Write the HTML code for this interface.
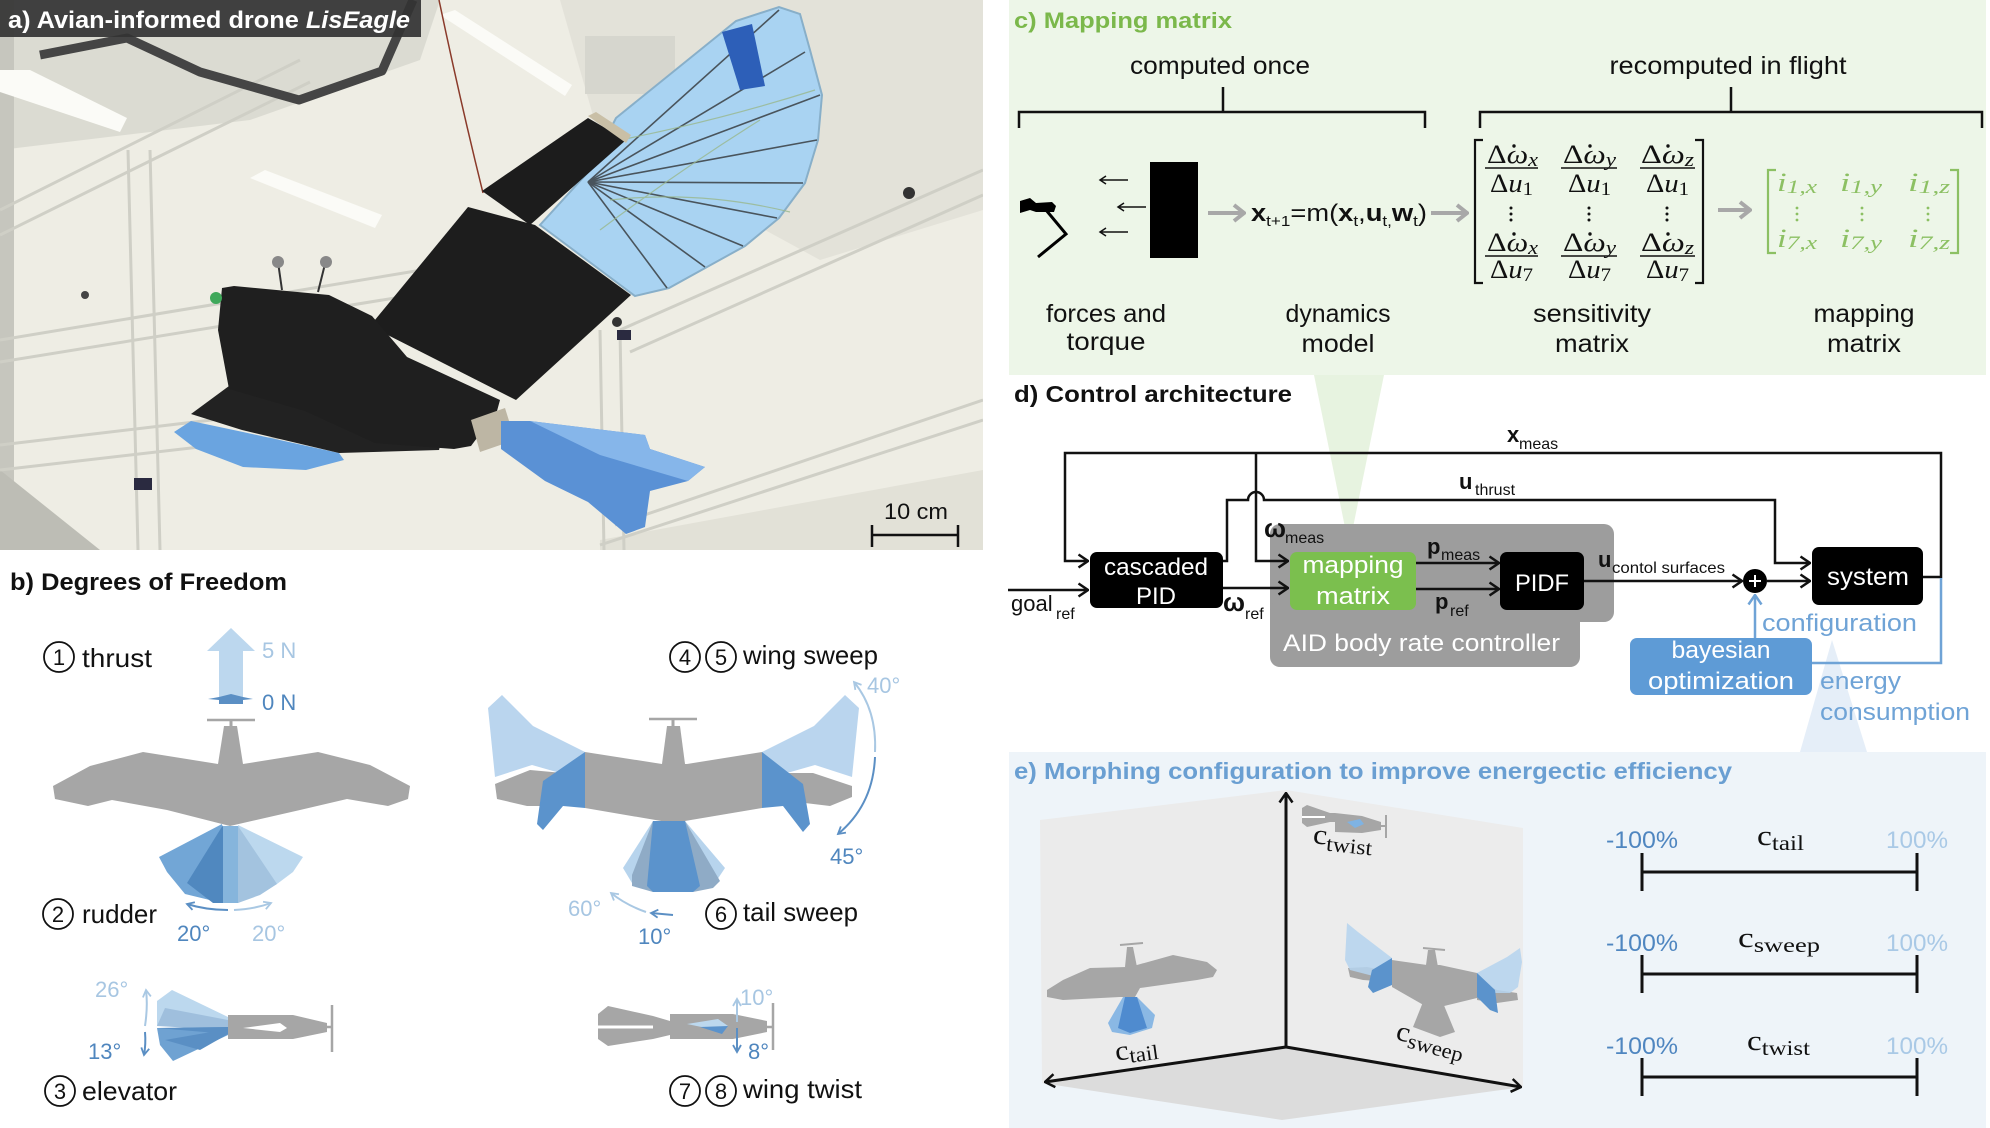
<!DOCTYPE html>
<html><head><meta charset="utf-8">
<style>
html,body{margin:0;padding:0;background:#fff;}
svg{display:block;}
text{font-family:"Liberation Sans",sans-serif;}
.sf{font-family:"Liberation Serif",serif;}
</style></head><body>
<svg width="1990" height="1128" viewBox="0 0 1990 1128" xmlns="http://www.w3.org/2000/svg">
<defs>
<marker id="ak" viewBox="0 0 12 16" refX="11" refY="8" markerWidth="12" markerHeight="16" markerUnits="userSpaceOnUse" orient="auto"><path d="M1.5,1.5 L11,8 L1.5,14.5" fill="none" stroke="#111" stroke-width="2.5"/></marker>
<marker id="abl" viewBox="0 0 12 16" refX="11" refY="8" markerWidth="12" markerHeight="16" markerUnits="userSpaceOnUse" orient="auto"><path d="M1.5,1.5 L11,8 L1.5,14.5" fill="none" stroke="#6fa3d6" stroke-width="2.5"/></marker>
<marker id="ag" viewBox="0 0 14 20" refX="12" refY="10" markerWidth="14" markerHeight="20" markerUnits="userSpaceOnUse" orient="auto"><path d="M2,2 L12,10 L2,18" fill="none" stroke="#a8a8a8" stroke-width="4"/></marker>
<marker id="md" viewBox="0 0 10 10" refX="8" refY="5" markerWidth="10" markerHeight="10" markerUnits="userSpaceOnUse" orient="auto"><path d="M1,1 L8,5 L1,9" fill="none" stroke="#5b8fc4" stroke-width="1.8"/></marker>
<marker id="ml" viewBox="0 0 10 10" refX="8" refY="5" markerWidth="10" markerHeight="10" markerUnits="userSpaceOnUse" orient="auto"><path d="M1,1 L8,5 L1,9" fill="none" stroke="#a9c8e3" stroke-width="1.8"/></marker>
<clipPath id="cp"><rect x="0" y="0" width="983" height="550"/></clipPath>
</defs>

<!-- ================= PANEL A (photo) ================= -->
<g clip-path="url(#cp)">
<rect x="0" y="0" width="983" height="550" fill="#eeede4"/>
<polygon points="0,0 440,0 420,60 250,120 0,150" fill="#d3d3ca" opacity="0.7"/>
<polygon points="560,0 983,0 983,210 820,260 600,140" fill="#dcdbd2" opacity="0.6"/>
<rect x="0" y="0" width="14" height="550" fill="#c6c6be"/>
<polygon points="0,470 100,550 0,550" fill="#bdbdb5"/>
<polygon points="600,540 983,470 983,550 600,550" fill="#e2e1d7"/>
<polygon points="0,70 30,70 127,118 120,132 0,92" fill="#fbfbf7"/>
<polygon points="250,178 265,170 382,215 375,228" fill="#fbfbf7"/>
<polygon points="440,15 455,10 572,85 565,96" fill="#fbfbf7"/>
<g stroke="#cfcfc6" stroke-width="3" fill="none">
<path d="M128,150 L138,550 M150,150 L160,550"/>
<path d="M0,210 L300,60 M0,235 L310,82"/>
<path d="M0,445 L380,400 M0,470 L390,425"/>
<path d="M620,330 L983,170 M630,352 L983,195"/>
<path d="M600,545 L983,420 M615,525 L983,400"/>
<path d="M600,330 L604,550 M620,330 L624,550"/>
<path d="M0,340 L470,262 M0,362 L475,285"/>
</g>
<path d="M40,55 L127,38 L200,72 L299,100 L382,71 L413,0" stroke="#454545" stroke-width="9" fill="none" stroke-linejoin="round"/>
<rect x="585" y="36" width="90" height="58" fill="#d6d6ce"/>
<path d="M439,0 Q460,100 483,193" stroke="#8a3a2a" stroke-width="1.5" fill="none"/>
<circle cx="909" cy="193" r="6" fill="#333"/>
<circle cx="617" cy="322" r="5" fill="#333"/>
<circle cx="85" cy="295" r="4" fill="#444"/>
<rect x="134" y="478" width="18" height="12" fill="#2a2a40"/>
<rect x="617" y="330" width="14" height="10" fill="#2a2a40"/>
<!-- upper fan -->
<polygon points="616,118 736,21 779,7 800,14 810,50 822,95 818,140 805,183 779,218 745,246 707,267 669,288 635,296 540,225 590,170" fill="#a9d3f2" stroke="#88afc9" stroke-width="2"/>
<g stroke="#2a2a2a" stroke-width="1.6" opacity="0.75">
<line x1="588" y1="182" x2="779" y2="10"/><line x1="588" y1="182" x2="805" y2="52"/>
<line x1="588" y1="182" x2="820" y2="95"/><line x1="588" y1="182" x2="817" y2="140"/>
<line x1="588" y1="182" x2="803" y2="183"/><line x1="588" y1="182" x2="777" y2="218"/>
<line x1="588" y1="182" x2="743" y2="246"/><line x1="588" y1="182" x2="705" y2="267"/>
<line x1="588" y1="182" x2="667" y2="288"/>
</g>
<g stroke="#9ab88e" stroke-width="1.2" opacity="0.8" fill="none">
<path d="M620,140 Q720,120 815,90"/><path d="M610,200 Q700,190 790,212"/><path d="M600,230 Q680,170 760,120"/>
</g>
<polygon points="722,32 752,24 765,86 740,90" fill="#2d5fb8"/>
<!-- slab -->
<polygon points="468,207 535,225 631,295 516,400 370,326" fill="#1d1d1d"/>
<!-- lower fan -->
<polygon points="174,432 191,421 243,432 339,453 344,460 306,470 243,467 196,449" fill="#6aa4e0"/>
<!-- lower wing -->
<polygon points="191,414 229,386 282,372 356,393 445,425 439,450 339,453 242,430" fill="#222"/>
<!-- body -->
<polygon points="222,288 234,286 329,295 372,316 407,357 500,400 497,411 471,446 454,449 375,443 305,411 229,389 218,330" fill="#1f1f1f"/>
<circle cx="216" cy="298" r="6" fill="#3fa85a"/>
<line x1="278" y1="262" x2="282" y2="290" stroke="#333" stroke-width="2"/>
<circle cx="278" cy="262" r="6" fill="#888"/>
<line x1="326" y1="260" x2="318" y2="292" stroke="#333" stroke-width="2"/>
<circle cx="326" cy="262" r="6" fill="#888"/>
<!-- tail -->
<polygon points="471,420 505,408 515,440 480,452" fill="#bdb6a4"/>
<polygon points="501,421 530,421 645,435 650,449 705,467 688,481 650,491 645,527 626,534 588,502 545,481 501,449" fill="#5a91d5"/>
<polygon points="530,421 645,435 650,449 705,467 688,481 600,455" fill="#86b6ea"/>
<!-- arm -->
<polygon points="588,118 626,140 530,225 482,191" fill="#1c1c1c"/>
<polygon points="588,116 596,112 631,135 626,143" fill="#c9bfa6"/>
<!-- title -->
<rect x="0" y="0" width="421" height="37" fill="#333" opacity="0.92"/>
<text x="8" y="28" font-size="24" font-weight="bold" fill="#fff" textLength="402" lengthAdjust="spacingAndGlyphs">a) Avian-informed drone <tspan font-style="italic">LisEagle</tspan></text>
<text x="884" y="519" font-size="22" fill="#111" textLength="64" lengthAdjust="spacingAndGlyphs">10 cm</text>
<path d="M872,525 V547 M872,535 H958 M958,525 V547" stroke="#111" stroke-width="2.5" fill="none"/>
</g>

<!-- ================= PANEL C ================= -->
<rect x="1009" y="0" width="977" height="375" fill="#edf6e8"/>
<polygon points="1314,375 1384,375 1349,547" fill="#e7f3e0"/>
<text x="1014" y="28" font-size="22" font-weight="bold" fill="#7bb84b" textLength="218" lengthAdjust="spacingAndGlyphs">c) Mapping matrix</text>
<text x="1220" y="74" font-size="25" text-anchor="middle" fill="#111" textLength="180" lengthAdjust="spacingAndGlyphs">computed once</text>
<text x="1728" y="74" font-size="25" text-anchor="middle" fill="#111" textLength="237" lengthAdjust="spacingAndGlyphs">recomputed in flight</text>
<path d="M1019,128 V112 H1425 V128 M1223,112 V87" stroke="#111" stroke-width="2.5" fill="none"/>
<path d="M1480,128 V112 H1982 V128 M1731,112 V87" stroke="#111" stroke-width="2.5" fill="none"/>
<path d="M1020,201 L1030,198 L1036,203 L1052,202 L1056,206 L1054,212 L1036,212 L1030,210 L1020,213 Z" fill="#000"/>
<polyline points="1046,210 1066,234 1038,257" stroke="#000" stroke-width="3" fill="none"/>
<g stroke="#111" stroke-width="1.5" fill="none">
<path d="M1128,180 H1100 M1106,176 L1100,180 L1106,184"/>
<path d="M1146,207 H1118 M1124,203 L1118,207 L1124,211"/>
<path d="M1128,232 H1100 M1106,228 L1100,232 L1106,236"/>
</g>
<rect x="1150" y="162" width="48" height="96" fill="#000"/>
<line x1="1208" y1="213" x2="1244" y2="213" stroke="#a8a8a8" stroke-width="4" marker-end="url(#ag)"/>
<text x="1251" y="221" font-size="24" fill="#111" textLength="176" lengthAdjust="spacingAndGlyphs"><tspan font-weight="bold">x</tspan><tspan font-size="15" dy="5">t+1</tspan><tspan dy="-5">=m(</tspan><tspan font-weight="bold">x</tspan><tspan font-size="15" dy="5">t</tspan><tspan dy="-5">,</tspan><tspan font-weight="bold">u</tspan><tspan font-size="15" dy="5">t,</tspan><tspan dy="-5" font-weight="bold">w</tspan><tspan font-size="15" dy="5">t</tspan><tspan dy="-5">)</tspan></text>
<line x1="1431" y1="213" x2="1467" y2="213" stroke="#a8a8a8" stroke-width="4" marker-end="url(#ag)"/>
<!-- sensitivity matrix -->
<path d="M1483,140 H1475 V283 H1483 M1695,140 H1703 V283 H1695" stroke="#111" stroke-width="2.2" fill="none"/>
<g fill="#111" font-size="26">
<text class="sf" x="1487" y="163" textLength="51" lengthAdjust="spacingAndGlyphs">Δ<tspan font-style="italic">ω</tspan><tspan font-style="italic" font-size="19" dy="3">x</tspan></text>
<text class="sf" x="1563" y="163" textLength="53" lengthAdjust="spacingAndGlyphs">Δ<tspan font-style="italic">ω</tspan><tspan font-style="italic" font-size="19" dy="3">y</tspan></text>
<text class="sf" x="1641" y="163" textLength="53" lengthAdjust="spacingAndGlyphs">Δ<tspan font-style="italic">ω</tspan><tspan font-style="italic" font-size="19" dy="3">z</tspan></text>
<text class="sf" x="1490" y="192" textLength="43" lengthAdjust="spacingAndGlyphs">Δ<tspan font-style="italic">u</tspan><tspan font-size="19" dy="3">1</tspan></text>
<text class="sf" x="1568" y="192" textLength="43" lengthAdjust="spacingAndGlyphs">Δ<tspan font-style="italic">u</tspan><tspan font-size="19" dy="3">1</tspan></text>
<text class="sf" x="1646" y="192" textLength="43" lengthAdjust="spacingAndGlyphs">Δ<tspan font-style="italic">u</tspan><tspan font-size="19" dy="3">1</tspan></text>
<text class="sf" x="1487" y="251" textLength="51" lengthAdjust="spacingAndGlyphs">Δ<tspan font-style="italic">ω</tspan><tspan font-style="italic" font-size="19" dy="3">x</tspan></text>
<text class="sf" x="1563" y="251" textLength="53" lengthAdjust="spacingAndGlyphs">Δ<tspan font-style="italic">ω</tspan><tspan font-style="italic" font-size="19" dy="3">y</tspan></text>
<text class="sf" x="1641" y="251" textLength="53" lengthAdjust="spacingAndGlyphs">Δ<tspan font-style="italic">ω</tspan><tspan font-style="italic" font-size="19" dy="3">z</tspan></text>
<text class="sf" x="1490" y="278" textLength="43" lengthAdjust="spacingAndGlyphs">Δ<tspan font-style="italic">u</tspan><tspan font-size="19" dy="3">7</tspan></text>
<text class="sf" x="1568" y="278" textLength="43" lengthAdjust="spacingAndGlyphs">Δ<tspan font-style="italic">u</tspan><tspan font-size="19" dy="3">7</tspan></text>
<text class="sf" x="1646" y="278" textLength="43" lengthAdjust="spacingAndGlyphs">Δ<tspan font-style="italic">u</tspan><tspan font-size="19" dy="3">7</tspan></text>
</g>
<g fill="#111">
<circle cx="1514" cy="146" r="1.7"/><circle cx="1590" cy="146" r="1.7"/><circle cx="1668" cy="146" r="1.7"/>
<circle cx="1514" cy="234" r="1.7"/><circle cx="1590" cy="234" r="1.7"/><circle cx="1668" cy="234" r="1.7"/>
</g>
<g stroke="#111" stroke-width="1.6">
<line x1="1485" y1="168" x2="1538" y2="168"/><line x1="1561" y1="168" x2="1617" y2="168"/><line x1="1640" y1="168" x2="1695" y2="168"/>
<line x1="1485" y1="256" x2="1538" y2="256"/><line x1="1561" y1="256" x2="1617" y2="256"/><line x1="1640" y1="256" x2="1695" y2="256"/>
</g>
<g fill="#111">
<circle cx="1511" cy="208" r="1.5"/><circle cx="1511" cy="214" r="1.5"/><circle cx="1511" cy="220" r="1.5"/>
<circle cx="1589" cy="208" r="1.5"/><circle cx="1589" cy="214" r="1.5"/><circle cx="1589" cy="220" r="1.5"/>
<circle cx="1667" cy="208" r="1.5"/><circle cx="1667" cy="214" r="1.5"/><circle cx="1667" cy="220" r="1.5"/>
</g>
<line x1="1718" y1="210" x2="1750" y2="210" stroke="#a8a8a8" stroke-width="4" marker-end="url(#ag)"/>
<!-- mapping matrix -->
<path d="M1776,170 H1768 V253 H1776 M1950,170 H1958 V253 H1950" stroke="#8cc063" stroke-width="2.2" fill="none"/>
<g fill="#8cc063" font-size="26" font-style="italic">
<text class="sf" x="1777" y="191" textLength="40" lengthAdjust="spacingAndGlyphs">i<tspan font-size="19" dy="2">1,x</tspan></text>
<text class="sf" x="1840" y="191" textLength="42" lengthAdjust="spacingAndGlyphs">i<tspan font-size="19" dy="2">1,y</tspan></text>
<text class="sf" x="1908" y="191" textLength="42" lengthAdjust="spacingAndGlyphs">i<tspan font-size="19" dy="2">1,z</tspan></text>
<text class="sf" x="1777" y="247" textLength="40" lengthAdjust="spacingAndGlyphs">i<tspan font-size="19" dy="2">7,x</tspan></text>
<text class="sf" x="1840" y="247" textLength="42" lengthAdjust="spacingAndGlyphs">i<tspan font-size="19" dy="2">7,y</tspan></text>
<text class="sf" x="1908" y="247" textLength="42" lengthAdjust="spacingAndGlyphs">i<tspan font-size="19" dy="2">7,z</tspan></text>
</g>
<g fill="#8cc063">
<circle cx="1797" cy="208" r="1.4"/><circle cx="1797" cy="214" r="1.4"/><circle cx="1797" cy="220" r="1.4"/>
<circle cx="1862" cy="208" r="1.4"/><circle cx="1862" cy="214" r="1.4"/><circle cx="1862" cy="220" r="1.4"/>
<circle cx="1928" cy="208" r="1.4"/><circle cx="1928" cy="214" r="1.4"/><circle cx="1928" cy="220" r="1.4"/>
</g>
<g font-size="25" fill="#111" text-anchor="middle">
<text x="1106" y="322" textLength="120" lengthAdjust="spacingAndGlyphs">forces and</text>
<text x="1106" y="350" textLength="79" lengthAdjust="spacingAndGlyphs">torque</text>
<text x="1338" y="322" textLength="105" lengthAdjust="spacingAndGlyphs">dynamics</text>
<text x="1338" y="352" textLength="73" lengthAdjust="spacingAndGlyphs">model</text>
<text x="1592" y="322" textLength="118" lengthAdjust="spacingAndGlyphs">sensitivity</text>
<text x="1592" y="352" textLength="74" lengthAdjust="spacingAndGlyphs">matrix</text>
<text x="1864" y="322" textLength="101" lengthAdjust="spacingAndGlyphs">mapping</text>
<text x="1864" y="352" textLength="74" lengthAdjust="spacingAndGlyphs">matrix</text>
</g>

<!-- ================= PANEL E background ================= -->
<rect x="1009" y="752" width="977" height="376" fill="#eef4f9"/>
<polygon points="1800,752 1867,752 1832,640" fill="#e5eef8"/>

<!-- ================= PANEL D ================= -->
<text x="1014" y="402" font-size="23" font-weight="bold" fill="#111" textLength="278" lengthAdjust="spacingAndGlyphs">d) Control architecture</text>
<rect x="1270" y="524" width="344" height="98" rx="10" fill="#9d9d9d"/>
<rect x="1270" y="600" width="310" height="67" rx="10" fill="#9d9d9d"/>
<text x="1283" y="651" font-size="24" fill="#fff" textLength="277" lengthAdjust="spacingAndGlyphs">AID body rate controller</text>
<g stroke="#111" stroke-width="2.5" fill="none">
<path d="M1923,577 H1941 V453 H1065 V561 H1088" marker-end="url(#ak)"/>
<path d="M1256,453 V561 H1288" marker-end="url(#ak)"/>
<path d="M1223,561 H1227 V500 H1248 A8,8 0 0 1 1264,500 H1775 V563 H1810" marker-end="url(#ak)"/>
<path d="M1008,590 H1088" marker-end="url(#ak)"/>
<path d="M1223,588 H1288" marker-end="url(#ak)"/>
<path d="M1416,563 H1499" marker-end="url(#ak)"/>
<path d="M1416,589 H1499" marker-end="url(#ak)"/>
<path d="M1584,581 H1742" marker-end="url(#ak)"/>
<path d="M1767,581 H1810" marker-end="url(#ak)"/>
</g>
<path d="M1941,578 V663 H1812" stroke="#6fa3d6" stroke-width="2.5" fill="none"/>
<path d="M1755,638 V595" stroke="#6fa3d6" stroke-width="2.5" fill="none" marker-end="url(#abl)"/>
<rect x="1090" y="552" width="133" height="56" rx="7" fill="#000"/>
<text x="1156" y="575" font-size="24" fill="#fff" text-anchor="middle" textLength="104" lengthAdjust="spacingAndGlyphs">cascaded</text>
<text x="1156" y="604" font-size="24" fill="#fff" text-anchor="middle" textLength="40" lengthAdjust="spacingAndGlyphs">PID</text>
<rect x="1290" y="552" width="126" height="58" rx="7" fill="#7bbf4e"/>
<text x="1353" y="573" font-size="24" fill="#fff" text-anchor="middle" textLength="101" lengthAdjust="spacingAndGlyphs">mapping</text>
<text x="1353" y="604" font-size="24" fill="#fff" text-anchor="middle" textLength="74" lengthAdjust="spacingAndGlyphs">matrix</text>
<rect x="1500" y="552" width="84" height="58" rx="7" fill="#000"/>
<text x="1542" y="591" font-size="24" fill="#fff" text-anchor="middle" textLength="54" lengthAdjust="spacingAndGlyphs">PIDF</text>
<circle cx="1755" cy="581" r="12" fill="#000"/>
<path d="M1749,581 H1761 M1755,575 V587" stroke="#fff" stroke-width="2"/>
<rect x="1812" y="547" width="111" height="58" rx="7" fill="#000"/>
<text x="1868" y="585" font-size="25" fill="#fff" text-anchor="middle" textLength="82" lengthAdjust="spacingAndGlyphs">system</text>
<rect x="1630" y="638" width="182" height="57" rx="7" fill="#5e9bd6"/>
<text x="1721" y="658" font-size="24" fill="#fff" text-anchor="middle" textLength="99" lengthAdjust="spacingAndGlyphs">bayesian</text>
<text x="1721" y="689" font-size="24" fill="#fff" text-anchor="middle" textLength="146" lengthAdjust="spacingAndGlyphs">optimization</text>
<text x="1762" y="631" font-size="24" fill="#6fa3d6" textLength="155" lengthAdjust="spacingAndGlyphs">configuration</text>
<text x="1820" y="689" font-size="24" fill="#6fa3d6" textLength="81" lengthAdjust="spacingAndGlyphs">energy</text>
<text x="1820" y="720" font-size="24" fill="#6fa3d6" textLength="150" lengthAdjust="spacingAndGlyphs">consumption</text>
<g fill="#111">
<text x="1507" y="442" font-size="22" font-weight="bold">x</text><text x="1519" y="449" font-size="16">meas</text>
<text x="1459" y="489" font-size="22" font-weight="bold">u</text><text x="1475" y="495" font-size="16">thrust</text>
<text x="1264" y="537" font-size="26" font-weight="bold">ω</text><text x="1285" y="543" font-size="16">meas</text>
<text x="1011" y="611" font-size="22">goal</text><text x="1056" y="619" font-size="16">ref</text>
<text x="1223" y="611" font-size="26" font-weight="bold">ω</text><text x="1245" y="619" font-size="16">ref</text>
<text x="1427" y="554" font-size="22" font-weight="bold">p</text><text x="1441" y="560" font-size="16">meas</text>
<text x="1435" y="609" font-size="22" font-weight="bold">p</text><text x="1450" y="616" font-size="16">ref</text>
<text x="1598" y="567" font-size="22" font-weight="bold">u</text><text x="1612" y="573" font-size="16" textLength="113" lengthAdjust="spacingAndGlyphs">contol surfaces</text>
</g>

<!-- ================= PANEL E ================= -->
<text x="1014" y="779" font-size="23" font-weight="bold" fill="#6a9fd2" textLength="718" lengthAdjust="spacingAndGlyphs">e) Morphing configuration to improve energectic efficiency</text>
<polygon points="1040,820 1286,790 1286,1047 1042,1083" fill="#ebebeb"/>
<polygon points="1286,790 1523,828 1523,1087 1286,1047" fill="#ececec"/>
<polygon points="1042,1083 1286,1047 1523,1087 1282,1120" fill="#dcdcdc"/>
<line x1="1120" y1="945" x2="1143" y2="943" stroke="#a6a6a6" stroke-width="2"/>
<polygon points="1127,947 1133,947 1137,967 1125,967" fill="#a6a6a6"/>
<polygon points="1047,990 1063,980 1090,968 1127,967 1137,965 1173,955 1207,962 1217,970 1213,977 1197,980 1140,988 1135,997 1120,997 1063,1000 1047,997" fill="#a6a6a6"/>
<polygon points="1108,1023 1123,997 1137,997 1155,1015 1152,1028 1130,1035 1112,1032" fill="#8ab8e4"/>
<polygon points="1125,997 1137,997 1147,1028 1130,1033 1118,1028" fill="#4f8bcf"/>
<polygon points="1348,968 1367,967 1392,972 1392,982 1363,980 1350,977" fill="#a6a6a6"/>
<polygon points="1477,980 1497,990 1517,993 1518,1000 1497,1003 1477,1000" fill="#a6a6a6"/>
<line x1="1423" y1="948" x2="1445" y2="950" stroke="#a6a6a6" stroke-width="2"/>
<polygon points="1428,950 1435,950 1438,967 1426,965" fill="#a6a6a6"/>
<polygon points="1392,960 1427,965 1440,965 1477,973 1477,998 1440,1007 1427,1007 1392,987" fill="#a6a6a6"/>
<polygon points="1423,1002 1443,1003 1455,1032 1440,1037 1413,1027" fill="#a6a6a6"/>
<polygon points="1347,923 1358,932 1392,958 1392,980 1377,977 1350,970 1345,960" fill="#b5d3ee" opacity="0.85"/>
<polygon points="1392,958 1392,985 1373,993 1368,987 1372,970" fill="#5b93cc"/>
<polygon points="1477,973 1507,957 1520,948 1522,962 1518,987 1510,993 1493,993 1477,997" fill="#b5d3ee" opacity="0.85"/>
<polygon points="1477,973 1495,990 1498,1013 1490,1010 1477,997" fill="#5b93cc"/>
<polygon points="1302,808 1307,805 1330,813 1335,813 1335,822 1330,822 1307,827 1302,823" fill="#a6a6a6"/>
<line x1="1302" y1="817" x2="1325" y2="817" stroke="#fff" stroke-width="2"/>
<polygon points="1335,813 1362,816 1381,822 1381,830 1362,833 1335,832" fill="#a6a6a6"/>
<line x1="1381" y1="826" x2="1386" y2="826" stroke="#a6a6a6" stroke-width="2"/>
<line x1="1386" y1="815" x2="1386" y2="838" stroke="#a6a6a6" stroke-width="2"/>
<polygon points="1347,822 1360,819 1364,824 1355,828" fill="#7fb3e3"/>
<g stroke="#111" stroke-width="3" fill="none">
<path d="M1286,1047 V793" marker-end="url(#ak)"/>
<path d="M1286,1047 L1045,1082" marker-end="url(#ak)"/>
<path d="M1286,1047 L1521,1087" marker-end="url(#ak)"/>
</g>
<g fill="#111">
<text class="sf" x="1115" y="1058" font-size="28" transform="rotate(-8 1135 1050)" textLength="43" lengthAdjust="spacingAndGlyphs">c<tspan font-size="21" dy="4">tail</tspan></text>
<text class="sf" x="1393" y="1048" font-size="28" transform="rotate(15 1428 1050)" textLength="70" lengthAdjust="spacingAndGlyphs">c<tspan font-size="21" dy="5">sweep</tspan></text>
<text class="sf" x="1312" y="846" font-size="28" transform="rotate(6 1340 848)" textLength="60" lengthAdjust="spacingAndGlyphs">c<tspan font-size="21" dy="6">twist</tspan></text>
</g>
<g font-size="24">
<text x="1606" y="848" fill="#4f86c0" textLength="72" lengthAdjust="spacingAndGlyphs">-100%</text>
<text x="1886" y="848" fill="#a9c9e6" textLength="62" lengthAdjust="spacingAndGlyphs">100%</text>
<text x="1606" y="951" fill="#4f86c0" textLength="72" lengthAdjust="spacingAndGlyphs">-100%</text>
<text x="1886" y="951" fill="#a9c9e6" textLength="62" lengthAdjust="spacingAndGlyphs">100%</text>
<text x="1606" y="1054" fill="#4f86c0" textLength="72" lengthAdjust="spacingAndGlyphs">-100%</text>
<text x="1886" y="1054" fill="#a9c9e6" textLength="62" lengthAdjust="spacingAndGlyphs">100%</text>
</g>
<g fill="#111">
<text class="sf" x="1757" y="845" font-size="28" textLength="47" lengthAdjust="spacingAndGlyphs">c<tspan font-size="21" dy="5">tail</tspan></text>
<text class="sf" x="1738" y="947" font-size="28" textLength="82" lengthAdjust="spacingAndGlyphs">c<tspan font-size="21" dy="5">sweep</tspan></text>
<text class="sf" x="1747" y="1050" font-size="28" textLength="63" lengthAdjust="spacingAndGlyphs">c<tspan font-size="21" dy="5">twist</tspan></text>
</g>
<g stroke="#111" stroke-width="3" fill="none">
<path d="M1642,853 V891 M1642,872 H1917 M1917,853 V891"/>
<path d="M1642,955 V993 M1642,974 H1917 M1917,955 V993"/>
<path d="M1642,1058 V1096 M1642,1077 H1917 M1917,1058 V1096"/>
</g>

<!-- ================= PANEL B ================= -->
<text x="10" y="590" font-size="24" font-weight="bold" fill="#111" textLength="277" lengthAdjust="spacingAndGlyphs">b) Degrees of Freedom</text>
<g fill="none" stroke="#111" stroke-width="1.8">
<circle cx="59" cy="657" r="15"/><circle cx="58" cy="914" r="15"/><circle cx="60" cy="1091" r="15"/>
<circle cx="685" cy="657" r="15"/><circle cx="721" cy="657" r="15"/><circle cx="721" cy="914" r="15"/>
<circle cx="685" cy="1091" r="15"/><circle cx="721" cy="1091" r="15"/>
</g>
<g font-size="22" fill="#111" text-anchor="middle">
<text x="59" y="665">1</text><text x="58" y="922">2</text><text x="60" y="1099">3</text>
<text x="685" y="665">4</text><text x="721" y="665">5</text><text x="721" y="922">6</text>
<text x="685" y="1099">7</text><text x="721" y="1099">8</text>
</g>
<g font-size="26" fill="#111">
<text x="82" y="667" textLength="70" lengthAdjust="spacingAndGlyphs">thrust</text>
<text x="82" y="923" textLength="75" lengthAdjust="spacingAndGlyphs">rudder</text>
<text x="82" y="1100" textLength="95" lengthAdjust="spacingAndGlyphs">elevator</text>
<text x="743" y="664" textLength="135" lengthAdjust="spacingAndGlyphs">wing sweep</text>
<text x="743" y="921" textLength="115" lengthAdjust="spacingAndGlyphs">tail sweep</text>
<text x="743" y="1098" textLength="119" lengthAdjust="spacingAndGlyphs">wing twist</text>
</g>
<polygon points="231,628 255,651 243,651 243,700 219,700 219,651 207,651" fill="#bcd7ee"/>
<polygon points="208,699 219,697 231,694 243,697 253,699 243,700 243,704 219,704 219,700" fill="#5b8fc4"/>
<text x="262" y="658" font-size="22" fill="#a7c6e2">5 N</text>
<text x="262" y="710" font-size="22" fill="#4f86be">0 N</text>
<line x1="207" y1="720" x2="255" y2="720" stroke="#a6a6a6" stroke-width="2.5"/>
<line x1="231" y1="720" x2="231" y2="727" stroke="#a6a6a6" stroke-width="3"/>
<polygon points="224,726 237,726 243,764 218,764" fill="#a6a6a6"/>
<polygon points="53,786 90,766 143,752 218,764 243,764 318,752 370,765 410,786 408,799 388,806 347,799 300,810 230,826 167,810 112,800 88,806 55,799" fill="#a6a6a6"/>
<polygon points="222,824 159,857 167,872 185,894 222,903" fill="#72a6d6"/>
<polygon points="238,825 303,857 293,872 277,884 238,903" fill="#bcd8ee"/>
<polygon points="238,826 277,884 260,895 238,903" fill="#a3c3df"/>
<polygon points="223,825 187,883 213,903 223,903" fill="#5088bf"/>
<polygon points="223,826 238,826 238,903 223,903" fill="#86b5dc"/>
<path d="M228,910 Q206,910 187,904" stroke="#5b8fc4" stroke-width="2" fill="none" marker-end="url(#md)"/>
<path d="M234,910 Q255,909 271,903" stroke="#a9c8e3" stroke-width="2" fill="none" marker-end="url(#ml)"/>
<text x="177" y="941" font-size="22" fill="#4f86be">20°</text>
<text x="252" y="941" font-size="22" fill="#a7c6e2">20°</text>
<polygon points="228,1015 293,1015 327,1023 327,1032 293,1039 228,1039" fill="#a6a6a6"/>
<polygon points="243,1028 280,1023 287,1028 280,1032" fill="#fff"/>
<line x1="327" y1="1027" x2="332" y2="1027" stroke="#a6a6a6" stroke-width="2.5"/>
<line x1="332" y1="1005" x2="332" y2="1052" stroke="#a6a6a6" stroke-width="2.5"/>
<polygon points="228,1017 172,990 157,1001 157,1026 228,1027" fill="#bcd8ee"/>
<polygon points="228,1020 165,1008 157,1026 228,1030" fill="#9fbfdd"/>
<polygon points="228,1027 157,1028 160,1045 173,1061 228,1035" fill="#6fa2d2"/>
<polygon points="228,1027 157,1028 228,1034" fill="#5a8fc4"/>
<polygon points="228,1029 165,1040 200,1050 228,1034" fill="#5a8fc4"/>
<path d="M145,1026 Q148,1006 146,990" stroke="#a9c8e3" stroke-width="2" fill="none" marker-end="url(#ml)"/>
<path d="M145,1032 Q146,1044 144,1055" stroke="#5b8fc4" stroke-width="2" fill="none" marker-end="url(#md)"/>
<text x="95" y="997" font-size="22" fill="#a7c6e2">26°</text>
<text x="88" y="1059" font-size="22" fill="#4f86be">13°</text>
<polygon points="495,784 530,770 585,775 585,806 543,806 527,806 497,799" fill="#a6a6a6"/>
<polygon points="762,773 813,773 852,786 852,797 830,806 805,803 762,806" fill="#a6a6a6"/>
<line x1="649" y1="719" x2="697" y2="719" stroke="#a6a6a6" stroke-width="2.5"/>
<line x1="673" y1="719" x2="673" y2="727" stroke="#a6a6a6" stroke-width="3"/>
<polygon points="667,726 680,726 685,764 662,764" fill="#a6a6a6"/>
<polygon points="585,752 662,764 687,764 762,752 762,808 673,823 585,808" fill="#a6a6a6"/>
<polygon points="585,752 533,726 502,695 488,708 495,777 532,765 560,773 585,788" fill="#a9cbea" opacity="0.8"/>
<polygon points="762,752 814,726 845,695 859,708 852,777 815,765 787,773 762,788" fill="#a9cbea" opacity="0.8"/>
<polygon points="585,752 543,781 537,824 543,830 563,806 585,808" fill="#5b93cc"/>
<polygon points="762,752 803,784 810,824 803,832 783,806 762,808" fill="#5b93cc"/>
<polygon points="623,868 653,821 685,821 725,868 715,883 632,883" fill="#b7d4ed"/>
<polygon points="632,875 653,821 685,821 720,881 713,888 693,892 653,892 632,886" fill="#8fabc6"/>
<polygon points="653,821 685,821 700,886 693,892 653,892 647,886" fill="#5b93cc"/>
<path d="M673,915 L651,913" stroke="#5b8fc4" stroke-width="2" fill="none" marker-end="url(#md)"/>
<path d="M646,912 Q626,905 611,893" stroke="#a9c8e3" stroke-width="2" fill="none" marker-end="url(#ml)"/>
<text x="568" y="916" font-size="22" fill="#a7c6e2">60°</text>
<text x="638" y="944" font-size="22" fill="#4f86be">10°</text>
<path d="M875,752 Q877,710 854,682" stroke="#a9c8e3" stroke-width="2" fill="none" marker-end="url(#ml)"/>
<path d="M875,757 Q873,805 838,834" stroke="#5b8fc4" stroke-width="2" fill="none" marker-end="url(#md)"/>
<text x="867" y="693" font-size="22" fill="#a7c6e2">40°</text>
<text x="830" y="864" font-size="22" fill="#4f86be">45°</text>
<polygon points="598,1014 608,1006 653,1016 670,1021 670,1035 653,1039 608,1046 598,1039" fill="#a6a6a6"/>
<line x1="598" y1="1027" x2="653" y2="1027" stroke="#fff" stroke-width="3"/>
<polygon points="670,1014 733,1014 767,1021 767,1032 733,1039 670,1039" fill="#a6a6a6"/>
<line x1="767" y1="1027" x2="773" y2="1027" stroke="#a6a6a6" stroke-width="2.5"/>
<line x1="773" y1="1003" x2="773" y2="1050" stroke="#a6a6a6" stroke-width="2.5"/>
<polygon points="687,1024 718,1019 728,1026 716,1030" fill="#bcd8ee"/>
<polygon points="700,1027 728,1026 722,1034" fill="#5b93cc"/>
<path d="M737,1022 L737,999" stroke="#a9c8e3" stroke-width="2" fill="none" marker-end="url(#ml)"/>
<path d="M737,1028 L737,1052" stroke="#5b8fc4" stroke-width="2" fill="none" marker-end="url(#md)"/>
<text x="740" y="1005" font-size="22" fill="#a7c6e2">10°</text>
<text x="748" y="1059" font-size="22" fill="#4f86be">8°</text>
</svg>
</body></html>
